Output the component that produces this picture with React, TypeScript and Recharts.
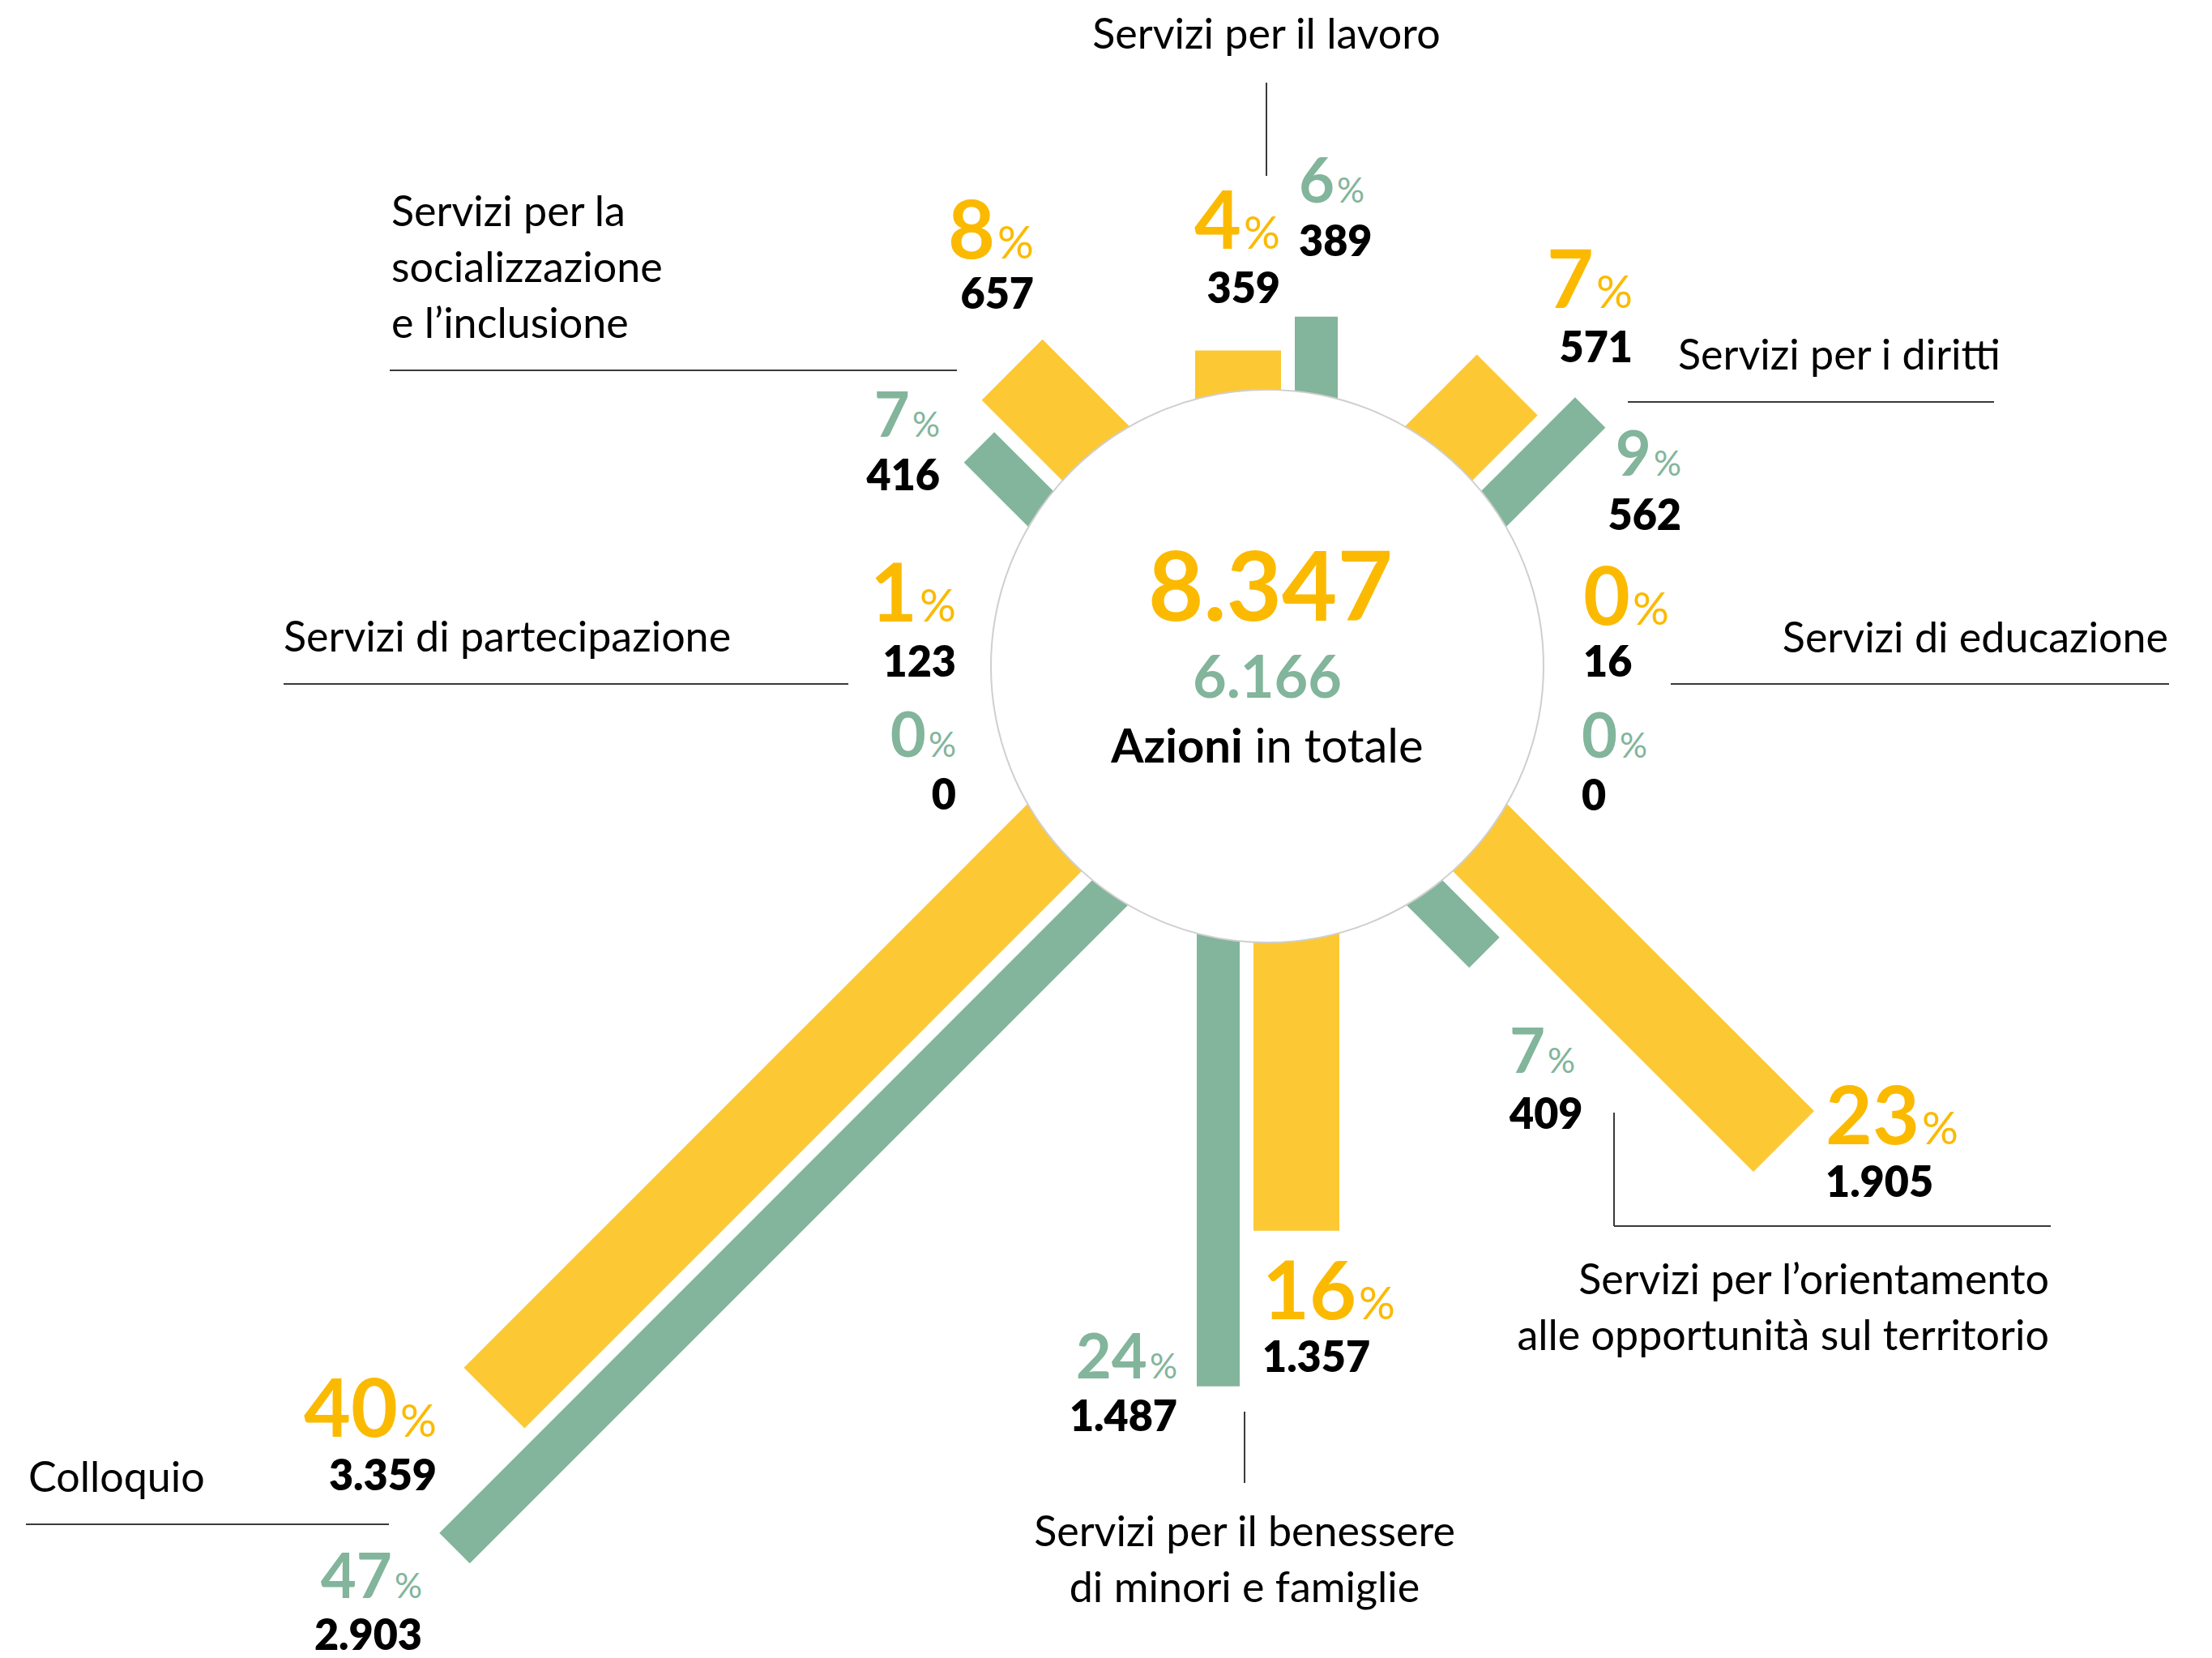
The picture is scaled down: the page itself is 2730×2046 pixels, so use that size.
import React from 'react';
import { BarChart, Bar, XAxis, YAxis } from 'recharts';

const W = 2730;
const H = 2046;
const FONT = "Lato, 'Open Sans', sans-serif";

// --- data ---
const CATEGORIES = [
    'Servizi per il lavoro',
    'Servizi per i diritti',
    'Servizi di educazione',
    'Servizi per l’orientamento alle opportunità sul territorio',
    'Servizi per il benessere di minori e famiglie',
    'Colloquio',
    'Servizi di partecipazione',
    'Servizi per la socializzazione e l’inclusione',
];
const LABEL_LINES = [
    ['Servizi per il lavoro'],
    ['Servizi per i diritti'],
    ['Servizi di educazione'],
    ['Servizi per l’orientamento', 'alle opportunità sul territorio'],
    ['Servizi per il benessere', 'di minori e famiglie'],
    ['Colloquio'],
    ['Servizi di partecipazione'],
    ['Servizi per la', 'socializzazione', 'e l’inclusione'],
];
const YELLOW_VALUES = [359, 571, 16, 1905, 1357, 3359, 123, 657];
const GREEN_VALUES = [389, 562, 0, 409, 1487, 2903, 0, 416];
const YELLOW_PCT = [4, 7, 0, 23, 16, 40, 1, 8];
const GREEN_PCT = [6, 9, 0, 7, 24, 47, 0, 7];
const TOTAL_YELLOW = 8347;
const TOTAL_GREEN = 6166;

// --- colours ---
const YELLOW_BAR = '#FCC834';
const YELLOW_TEXT = '#FBBA00';
const GREEN = '#82B59B';

// --- geometry ---
const CX = 1564;
const CY = 822;
const R = 341;
const PX_PER_PCT = 25.7;
const PLOT_W = 50 * PX_PER_PCT; // axis max = 50% of the total
const ANGLES = [0, 45, 90, 135, 180, 225, 270, 315];
const YELLOW_BAND = [-89, 17];
const GREEN_BAND = [34, 87];
const YELLOW_BASE = 279; // bars start hidden under the circle
const GREEN_BASE = 269;

type Anchor = 'start' | 'middle' | 'end';
interface Slot { x: number; pctY: number; valY: number; anchor: Anchor }
interface Layout {
    yellow: Slot;
    green: Slot;
    title: { x: number; y: number; anchor: Anchor };
    lines: number[][];
}

const LAYOUT: Layout[] = [
    {
        yellow: { x: 1580, pctY: 307, valY: 374, anchor: 'end' },
        green: { x: 1603, pctY: 250, valY: 316, anchor: 'start' },
        title: { x: 1563, y: 60, anchor: 'middle' },
        lines: [[1563, 102, 1563, 217]],
    },
    {
        yellow: { x: 2015, pctY: 380, valY: 447, anchor: 'end' },
        green: { x: 2075, pctY: 587, valY: 654, anchor: 'end' },
        title: { x: 2071, y: 456, anchor: 'start' },
        lines: [[2009, 496, 2461, 496]],
    },
    {
        yellow: { x: 1954, pctY: 771, valY: 835, anchor: 'start' },
        green: { x: 1952, pctY: 935, valY: 1000, anchor: 'start' },
        title: { x: 2676, y: 805, anchor: 'end' },
        lines: [[2062, 844, 2677, 844]],
    },
    {
        yellow: { x: 2253, pctY: 1412, valY: 1477, anchor: 'start' },
        green: { x: 1863, pctY: 1324, valY: 1393, anchor: 'start' },
        title: { x: 2529, y: 1597, anchor: 'end' },
        lines: [[1992, 1373, 1992, 1513], [1992, 1513, 2531, 1513]],
    },
    {
        yellow: { x: 1558, pctY: 1628, valY: 1693, anchor: 'start' },
        green: { x: 1453, pctY: 1701, valY: 1766, anchor: 'end' },
        title: { x: 1536, y: 1908, anchor: 'middle' },
        lines: [[1536, 1742, 1536, 1830]],
    },
    {
        yellow: { x: 539, pctY: 1773, valY: 1839, anchor: 'end' },
        green: { x: 521, pctY: 1972, valY: 2036, anchor: 'end' },
        title: { x: 35, y: 1841, anchor: 'start' },
        lines: [[32, 1881, 480, 1881]],
    },
    {
        yellow: { x: 1180, pctY: 767, valY: 835, anchor: 'end' },
        green: { x: 1180, pctY: 934, valY: 999, anchor: 'end' },
        title: { x: 350, y: 804, anchor: 'start' },
        lines: [[350, 844, 1047, 844]],
    },
    {
        yellow: { x: 1276, pctY: 319, valY: 381, anchor: 'end' },
        green: { x: 1160, pctY: 539, valY: 605, anchor: 'end' },
        title: { x: 483, y: 279, anchor: 'start' },
        lines: [[481, 457, 1181, 457]],
    },
];

const fmt = (v: number) => String(v).replace(/\B(?=(\d{3})+(?!\d))/g, '.');

const chartData = CATEGORIES.map((name, i) => ({
    name,
    yellow: YELLOW_VALUES[i],
    green: GREEN_VALUES[i],
}));

// draws the bar the library sized (props.width) as a spoke around the circle
const spokeShape = (band: number[], base: number, color: string) => (props: any) => {
    const idx = CATEGORIES.indexOf(props?.payload?.name);
    if (idx < 0) return <g />;
    const len = Math.max(0, Number(props.width) || 0);
    const deg = ANGLES[idx];
    const a = (deg * Math.PI) / 180;
    const side = deg > 180 ? -1 : 1; // left half is mirrored
    const dx = Math.sin(a);
    const dy = -Math.cos(a);
    const px = Math.cos(a);
    const py = Math.sin(a);
    const o1 = band[0] * side;
    const o2 = band[1] * side;
    const pt = (r: number, o: number) => `${CX + dx * r + px * o},${CY + dy * r + py * o}`;
    const r1 = base;
    const r2 = base + len;
    return <polygon points={[pt(r1, o1), pt(r2, o1), pt(r2, o2), pt(r1, o2)].join(' ')} fill={color} />;
};

const PctLabel = ({ s, pct, color, size }: { s: Slot; pct: number; color: string; size: number }) => (
    <text x={s.x} y={s.pctY} textAnchor={s.anchor} fill={color} fontSize={size} fontWeight={700} fontFamily={FONT}>
        {pct}
        <tspan fontSize={size * 0.56} fontWeight={400} dx={3}>%</tspan>
    </text>
);

const ValLabel = ({ s, value }: { s: Slot; value: number }) => (
    <text x={s.x} y={s.valY} textAnchor={s.anchor} fill="#000" fontSize={52} fontWeight={800} fontFamily={FONT}>
        {fmt(value)}
    </text>
);

export default function App() {
    return (
        <div style={{ position: 'absolute', left: 0, top: 0, width: W, height: H, background: '#fff' }}>
            <div style={{ position: 'absolute', left: 0, top: 0 }}>
                <BarChart
                    width={W}
                    height={H}
                    data={chartData}
                    layout="vertical"
                    margin={{ top: 0, right: W - PLOT_W, bottom: 0, left: 0 }}
                >
                    <XAxis xAxisId="y" type="number" domain={[0, TOTAL_YELLOW / 2]} hide />
                    <XAxis xAxisId="g" type="number" domain={[0, TOTAL_GREEN / 2]} hide />
                    <YAxis type="category" dataKey="name" hide />
                    <Bar dataKey="yellow" xAxisId="y" shape={spokeShape(YELLOW_BAND, YELLOW_BASE, YELLOW_BAR)} isAnimationActive={false} />
                    <Bar dataKey="green" xAxisId="g" shape={spokeShape(GREEN_BAND, GREEN_BASE, GREEN)} isAnimationActive={false} />
                </BarChart>
            </div>
            <svg width={W} height={H} style={{ position: 'absolute', left: 0, top: 0 }}>
                <circle cx={CX} cy={CY} r={R} fill="#fff" stroke="#cfcfcf" strokeWidth={2} />
                <text x={CX + 4} y={766} textAnchor="middle" fill={YELLOW_TEXT} fontSize={118} fontWeight={700} fontFamily={FONT}>
                    {fmt(TOTAL_YELLOW)}
                </text>
                <text x={CX} y={861} textAnchor="middle" fill={GREEN} fontSize={72} fontWeight={700} fontFamily={FONT}>
                    {fmt(TOTAL_GREEN)}
                </text>
                <text x={CX} y={941} textAnchor="middle" fill="#000" fontSize={58} fontFamily={FONT}>
                    <tspan fontWeight={700}>Azioni</tspan>
                    <tspan fontWeight={400}> in totale</tspan>
                </text>
                {LAYOUT.map((l, i) => (
                    <g key={CATEGORIES[i]}>
                        {l.lines.map((ln, j) => (
                            <line key={j} x1={ln[0]} y1={ln[1]} x2={ln[2]} y2={ln[3]} stroke="#3a3a3a" strokeWidth={2} />
                        ))}
                        {LABEL_LINES[i].map((t, j) => (
                            <text
                                key={j}
                                x={l.title.x}
                                y={l.title.y + j * 69}
                                textAnchor={l.title.anchor}
                                fill="#000"
                                fontSize={52}
                                fontFamily={FONT}
                            >
                                {t}
                            </text>
                        ))}
                        <PctLabel s={l.yellow} pct={YELLOW_PCT[i]} color={YELLOW_TEXT} size={100} />
                        <ValLabel s={l.yellow} value={YELLOW_VALUES[i]} />
                        <PctLabel s={l.green} pct={GREEN_PCT[i]} color={GREEN} size={76} />
                        <ValLabel s={l.green} value={GREEN_VALUES[i]} />
                    </g>
                ))}
            </svg>
        </div>
    );
}
